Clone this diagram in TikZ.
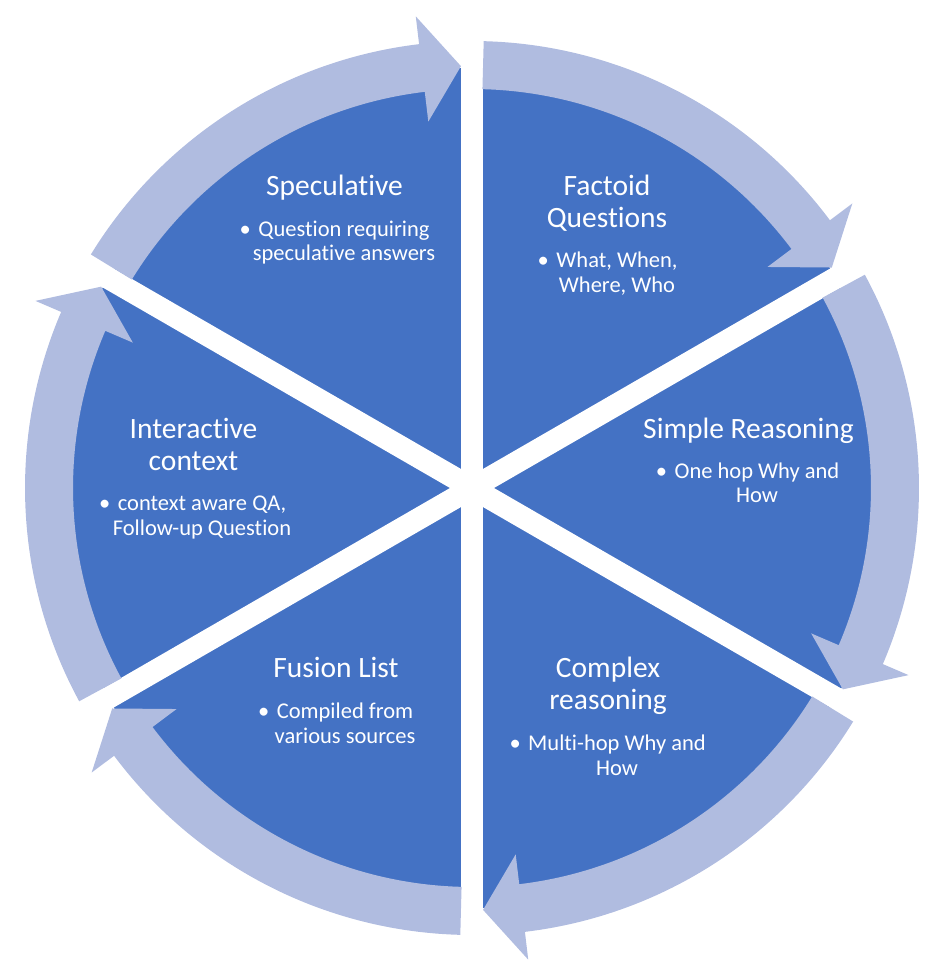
\documentclass[tikz,border=0pt]{standalone}
\usepackage{fontspec}
\setmainfont{Carlito}[Ligatures={NoCommon,NoRare}]
\definecolor{piec}{HTML}{4472C4}
\definecolor{arrc}{RGB}{176,188,224}
\tikzset{
  ttl/.style={text=white, font=\fontsize{29.5}{32}\selectfont, anchor=base, inner sep=0pt},
  bdy/.style={text=white, font=\fontsize{22.5}{25}\selectfont, anchor=base, inner sep=0pt},
}
\newcommand{\bul}{\llap{\textbullet\hspace{7.5pt}}}
\begin{document}
\begin{tikzpicture}[x=1pt,y=1pt]
\useasboundingbox (0,0) rectangle (944,-980);
\coordinate (C) at (472,-488);
\begin{scope}[shift={(472,-488)}]
  % pie
  \fill[piec] (0,0) circle[radius=420];
  \foreach \a in {90,30,150}{
    \draw[white, line width=22pt] (\a:428) -- (\a+180:428);
  }
  % arrows (clockwise)
  \foreach \s in {90,30,-30,-90,-150,150}{
    \pgfmathsetmacro{\ta}{\s-1.5}
    \pgfmathsetmacro{\tp}{\s-60+1.5}
    \pgfmathsetmacro{\hb}{\s-60+6.8}
    \fill[arrc] (\ta:447) arc[start angle=\ta, end angle=\hb, radius=447]
      -- (\hb:475) -- (\tp:422) -- (\hb:369) -- (\hb:399)
      arc[start angle=\hb, end angle=\ta, radius=399] -- cycle;
  }
\end{scope}
% Speculative
\node[ttl] (s1) at (334.5,-195) {Speculative};
\node[bdy] (s2) at (344,-236) {\bul Question requiring};
\node[bdy] (s3) at (344,-260) {speculative answers};
% Factoid
\node[ttl] (f1) at (607,-195) {Factoid};
\node[ttl] (f2) at (607,-227) {Questions};
\node[bdy] (f3) at (617,-267) {\bul What, When,};
\node[bdy] (f4) at (617,-292) {Where, Who};
% Simple reasoning
\node[ttl] (r1) at (748.5,-438) {Simple Reasoning};
\node[bdy] (r2) at (757,-478) {\bul One hop Why and};
\node[bdy] (r3) at (757,-502) {How};
% Complex reasoning
\node[ttl] (c1) at (608,-677) {Complex};
\node[ttl] (c2) at (608,-709) {reasoning};
\node[bdy] (c3) at (617,-750) {\bul Multi-hop Why and};
\node[bdy] (c4) at (617,-775) {How};
% Fusion list
\node[ttl] (u1) at (336,-677) {Fusion List};
\node[bdy] (u2) at (345,-718) {\bul Compiled from};
\node[bdy] (u3) at (345,-743) {various sources};
% Interactive context
\node[ttl] (i1) at (193.5,-438) {Interactive};
\node[ttl] (i2) at (193.5,-470) {context};
\node[bdy] (i3) at (202,-510) {\bul context aware QA,};
\node[bdy] (i4) at (202,-535) {Follow-up Question};
\end{tikzpicture}
\end{document}
